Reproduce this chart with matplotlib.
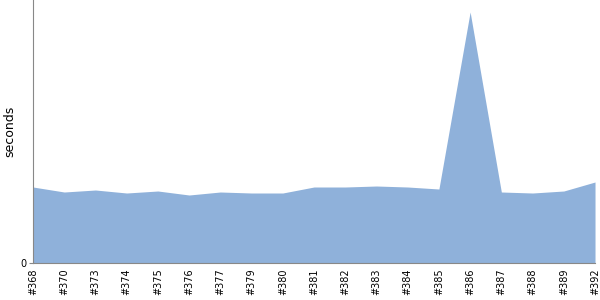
import matplotlib
matplotlib.use("Agg")
import matplotlib.pyplot as plt

# build labels and measured run durations (seconds)
builds = ["#368", "#370", "#373", "#374", "#375", "#376", "#377", "#379", "#380",
          "#381", "#382", "#383", "#384", "#385", "#386", "#387", "#388", "#389", "#392"]
durations = [7.6, 7.1, 7.3, 7.0, 7.2, 6.8, 7.1, 7.0, 7.0,
             7.6, 7.6, 7.7, 7.6, 7.4, 25.1, 7.1, 7.0, 7.2, 8.1]

fig = plt.figure(figsize=(6, 3), dpi=100)
ax = fig.add_axes([0.055, 0.1233, 0.9367, 0.8767])

x = range(len(builds))
ax.fill_between(x, durations, 0, color="#8fb1da", linewidth=0)

ax.set_xlim(0, len(builds) - 1)
ax.set_ylim(0, 26.3)
ax.set_xticks(list(x))
ax.set_xticklabels(builds, rotation=90, fontsize=7)
ax.set_yticks([0])
ax.set_yticklabels(["0"], fontsize=7)
ax.tick_params(axis="x", length=0, pad=4)
ax.tick_params(axis="y", length=3, color="#888888", pad=2)
ax.set_ylabel("seconds", fontsize=9)
ax.yaxis.set_label_coords(-0.029, 0.5)

for side in ("top", "right"):
    ax.spines[side].set_visible(False)
for side in ("left", "bottom"):
    ax.spines[side].set_color("#888888")

fig.savefig("out.png", dpi=100)
